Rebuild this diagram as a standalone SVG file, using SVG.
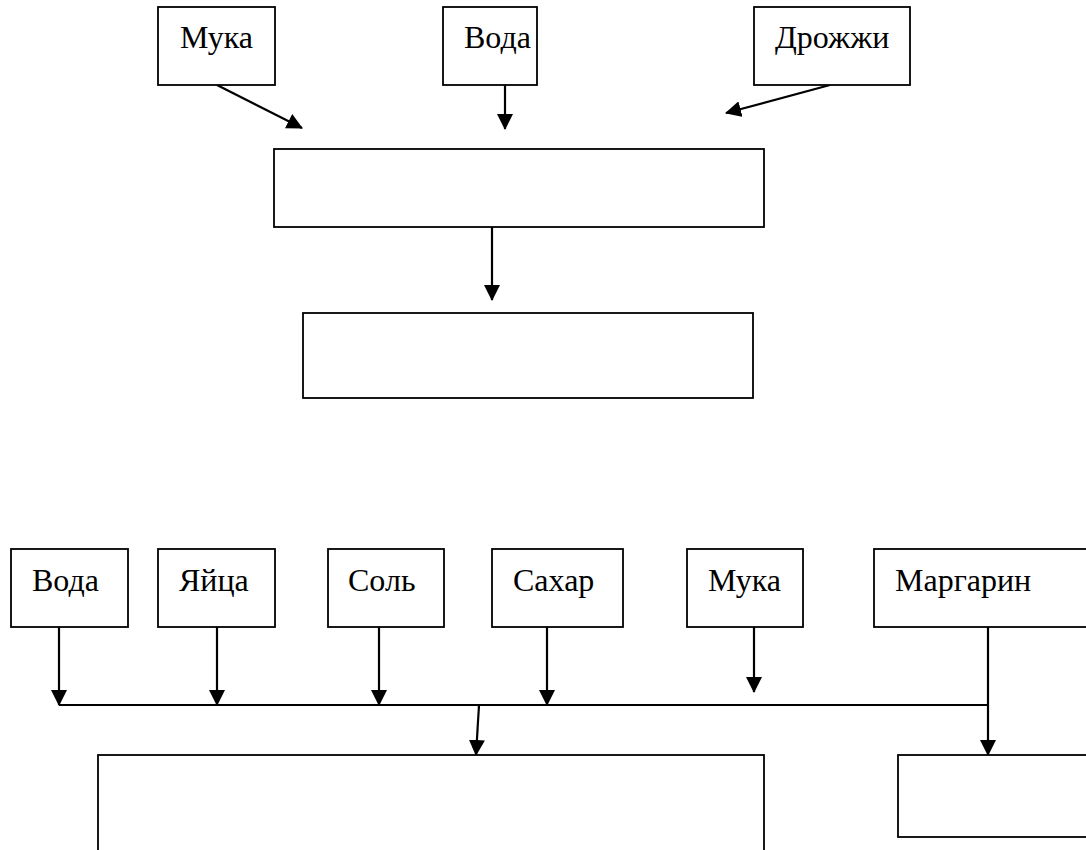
<svg xmlns="http://www.w3.org/2000/svg" width="1086" height="850" viewBox="0 0 1086 850">
<style>
.box{fill:#fff;stroke:#000;stroke-width:1.8}
.lbl{font-family:"Liberation Serif","Times New Roman",serif;font-size:32px;fill:#000}
.con{stroke:#000;stroke-width:2.2;fill:none}
.bus{stroke:#000;stroke-width:1.8;fill:none}
</style>
<defs>
<marker id="ah" viewBox="0 0 16 16" refX="15" refY="8" markerWidth="16" markerHeight="16" markerUnits="userSpaceOnUse" orient="auto">
<path d="M0,0 L16,8 L0,16 z" fill="#000"/>
</marker>
</defs>
<rect width="1086" height="850" fill="#fff"/>
<g id="connectors">
<line class="con" x1="217" y1="85" x2="302" y2="128" marker-end="url(#ah)"/>
<line class="con" x1="505" y1="85" x2="505" y2="129" marker-end="url(#ah)"/>
<line class="con" x1="830" y1="85" x2="726" y2="113" marker-end="url(#ah)"/>
<line class="con" x1="492" y1="227" x2="492" y2="300" marker-end="url(#ah)"/>
<line class="con" x1="59" y1="627" x2="59" y2="705" marker-end="url(#ah)"/>
<line class="con" x1="217" y1="627" x2="217" y2="705" marker-end="url(#ah)"/>
<line class="con" x1="379" y1="627" x2="379" y2="705" marker-end="url(#ah)"/>
<line class="con" x1="547" y1="627" x2="547" y2="705" marker-end="url(#ah)"/>
<line class="con" x1="754" y1="627" x2="754" y2="692" marker-end="url(#ah)"/>
<line class="bus" x1="59" y1="705" x2="988" y2="705"/>
<line class="con" x1="988" y1="627" x2="988" y2="755" marker-end="url(#ah)"/>
<line class="con" x1="479" y1="705" x2="476" y2="755" marker-end="url(#ah)"/>
</g>
<g id="n_muka_top"><rect class="box" x="158" y="7" width="117" height="78"/><text class="lbl" x="180" y="48">Мука</text></g>
<g id="n_voda_top"><rect class="box" x="443" y="7" width="94" height="78"/><text class="lbl" x="464" y="48">Вода</text></g>
<g id="n_drozhzhi"><rect class="box" x="754" y="7" width="156" height="78"/><text class="lbl" x="775" y="48">Дрожжи</text></g>
<g id="n_mix1"><rect class="box" x="274" y="149" width="490" height="78"/></g>
<g id="n_mix2"><rect class="box" x="303" y="313" width="450" height="85"/></g>
<g id="n_voda"><rect class="box" x="11" y="549" width="117" height="78"/><text class="lbl" x="32" y="591">Вода</text></g>
<g id="n_yaitsa"><rect class="box" x="158" y="549" width="117" height="78"/><text class="lbl" x="179" y="591">Яйца</text></g>
<g id="n_sol"><rect class="box" x="328" y="549" width="116" height="78"/><text class="lbl" x="348" y="591">Соль</text></g>
<g id="n_sahar"><rect class="box" x="492" y="549" width="131" height="78"/><text class="lbl" x="513" y="591">Сахар</text></g>
<g id="n_muka"><rect class="box" x="687" y="549" width="116" height="78"/><text class="lbl" x="708" y="591">Мука</text></g>
<g id="n_margarin"><rect class="box" x="874" y="549" width="230" height="78"/><text class="lbl" x="895" y="591">Маргарин</text></g>
<g id="n_dough"><rect class="box" x="98" y="755" width="666" height="120"/></g>
<g id="n_right"><rect class="box" x="898" y="755" width="210" height="82"/></g>
</svg>
